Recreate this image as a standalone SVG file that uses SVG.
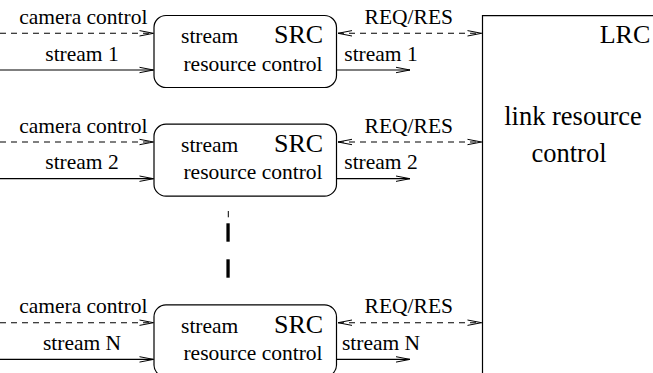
<svg xmlns="http://www.w3.org/2000/svg" width="653" height="373" viewBox="0 0 653 373" font-family="'Liberation Serif', 'Times New Roman', Times, 'DejaVu Serif', serif">
<style>
text{fill:#000;text-anchor:middle}
.lbl{font-size:21.5px}
.src{font-size:26px}
.big{font-size:26.5px}
.ln{fill:none;stroke:#000;stroke-width:1.2}
.dash{fill:none;stroke:#000;stroke-width:1.1;stroke-dasharray:6,5}
.box{fill:#fff;stroke:#000;stroke-width:1.2}
</style>
<defs>
<marker id="ah" markerWidth="16" markerHeight="8" refX="15" refY="4" orient="auto-start-reverse" markerUnits="userSpaceOnUse">
<path d="M1,1.3 L15,4 L1,6.7" fill="none" stroke="#000" stroke-width="1"/>
</marker>
<g id="srcunit">
<rect class="box" x="154" y="15.5" width="182.5" height="72" rx="12" ry="12"/>
<text class="lbl" x="209.7" y="43.3">stream</text>
<text class="src" x="298.5" y="43.3">SRC</text>
<text class="lbl" x="253" y="70.7">resource control</text>
</g>
</defs>
<g id="connectors">
<g id="c1">
<path class="dash" d="M0,33.3 H153.5" marker-end="url(#ah)"/>
<path class="ln" d="M0,70 H153.5" marker-end="url(#ah)"/>
<path class="dash" d="M338,33.3 H481.5" marker-start="url(#ah)" marker-end="url(#ah)"/>
<path class="ln" d="M336.5,70 H410" marker-end="url(#ah)"/>
</g>
<g id="c2" transform="translate(0,108.7)">
<path class="dash" d="M0,33.3 H153.5" marker-end="url(#ah)"/>
<path class="ln" d="M0,70 H153.5" marker-end="url(#ah)"/>
<path class="dash" d="M338,33.3 H481.5" marker-start="url(#ah)" marker-end="url(#ah)"/>
<path class="ln" d="M336.5,70 H410" marker-end="url(#ah)"/>
</g>
<g id="cN" transform="translate(0,289.4)">
<path class="dash" d="M0,33.3 H153.5" marker-end="url(#ah)"/>
<path class="ln" d="M0,70 H153.5" marker-end="url(#ah)"/>
<path class="dash" d="M338,33.3 H481.5" marker-start="url(#ah)" marker-end="url(#ah)"/>
<path class="ln" d="M336.5,70 H410" marker-end="url(#ah)"/>
</g>
<g id="ellipsis">
<line x1="228.3" y1="211" x2="228.3" y2="217.3" stroke="#000" stroke-width="1"/>
<rect x="226.4" y="223.3" width="3.3" height="18.4" fill="#000"/>
<rect x="226.4" y="259.3" width="3.3" height="18.4" fill="#000"/>
</g>
</g>
<g id="labels">
<g id="l1">
<text class="lbl" x="83.3" y="24">camera control</text>
<text class="lbl" x="82" y="60.7">stream 1</text>
<text class="lbl" x="408.8" y="24">REQ/RES</text>
<text class="lbl" x="381" y="60.7">stream 1</text>
</g>
<g id="l2" transform="translate(0,108.7)">
<text class="lbl" x="83.3" y="24">camera control</text>
<text class="lbl" x="82" y="60.7">stream 2</text>
<text class="lbl" x="408.8" y="24">REQ/RES</text>
<text class="lbl" x="381" y="60.7">stream 2</text>
</g>
<g id="lN" transform="translate(0,289.4)">
<text class="lbl" x="83.3" y="24">camera control</text>
<text class="lbl" x="82" y="60.7">stream N</text>
<text class="lbl" x="408.8" y="24">REQ/RES</text>
<text class="lbl" x="381" y="60.7">stream N</text>
</g>
</g>
<g id="src1"><use href="#srcunit"/></g>
<g id="src2"><use href="#srcunit" transform="translate(0,108.7)"/></g>
<g id="srcN"><use href="#srcunit" transform="translate(0,289.4)"/></g>
<g id="lrc">
<path d="M482.5,380 V15.6 H660" fill="none" stroke="#000" stroke-width="1.2"/>
<text class="src" x="625" y="43.3">LRC</text>
<text class="big" x="573" y="125">link resource</text>
<text class="big" x="569" y="161.7">control</text>
</g>
</svg>
